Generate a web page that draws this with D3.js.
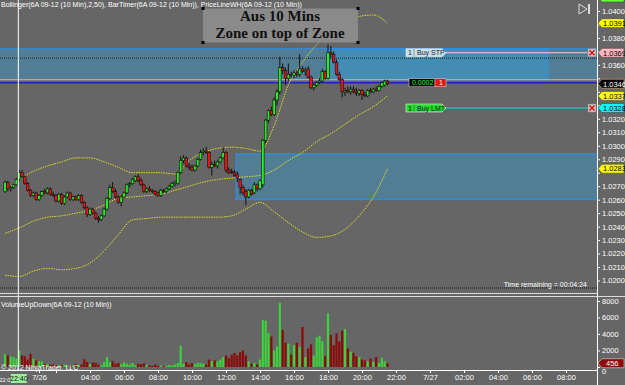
<!DOCTYPE html>
<meta charset="utf-8">
<style>
body { margin: 0; background: #666666; overflow: hidden; }
</style>
<script src="https://d3js.org/d3.v7.min.js"></script>
<div id="chart"></div>
<script>
// 6A 09-12 (10 Min) bars, one value per bar
var open = [1.0266,1.0273,1.0268,1.0269,1.0271,1.0275,1.0280,1.0277,1.0272,1.0267,
  1.0263,1.0265,1.0260,1.0263,1.0266,1.0265,1.0268,1.0264,1.0263,1.0259,
  1.0264,1.0257,1.0262,1.0265,1.0260,1.0262,1.0260,1.0263,1.0258,1.0254,
  1.0249,1.0253,1.0250,1.0246,1.0245,1.0248,1.0253,1.0261,1.0269,1.0266,
  1.0262,1.0258,1.0262,1.0265,1.0271,1.0272,1.0274,1.0277,1.0274,1.0271,
  1.0266,1.0268,1.0267,1.0266,1.0265,1.0263,1.0267,1.0266,1.0268,1.0270,
  1.0272,1.0272,1.0280,1.0289,1.0291,1.0285,1.0284,1.0282,1.0285,1.0290,
  1.0295,1.0296,1.0295,1.0284,1.0286,1.0285,1.0288,1.0291,1.0295,1.0282,
  1.0281,1.0280,1.0279,1.0275,1.0269,1.0266,1.0262,1.0267,1.0265,1.0271,
  1.0268,1.0271,1.0304,1.0319,1.0326,1.0323,1.0334,1.0340,1.0358,1.0356,
  1.0350,1.0353,1.0352,1.0354,1.0353,1.0357,1.0355,1.0357,1.0351,1.0343,
  1.0345,1.0347,1.0348,1.0355,1.0350,1.0369,1.0368,1.0362,1.0353,1.0349,
  1.0340,1.0341,1.0340,1.0342,1.0340,1.0339,1.0341,1.0338,1.0337,1.0341,
  1.0340,1.0342,1.0341,1.0344,1.0345,1.0348];
var high = [1.0274,1.0274,1.0270,1.0272,1.0276,1.0282,1.0282,1.0278,1.0273,1.0268,
  1.0266,1.0266,1.0264,1.0267,1.0268,1.0269,1.0269,1.0266,1.0264,1.0265,
  1.0265,1.0263,1.0266,1.0266,1.0263,1.0263,1.0264,1.0264,1.0259,1.0255,
  1.0254,1.0254,1.0251,1.0248,1.0249,1.0254,1.0262,1.0271,1.0273,1.0268,
  1.0263,1.0263,1.0266,1.0272,1.0273,1.0276,1.0278,1.0279,1.0276,1.0272,
  1.0269,1.0270,1.0268,1.0267,1.0266,1.0268,1.0268,1.0269,1.0271,1.0273,
  1.0274,1.0281,1.0292,1.0293,1.0292,1.0287,1.0286,1.0286,1.0291,1.0297,
  1.0298,1.0299,1.0296,1.0288,1.0289,1.0289,1.0292,1.0299,1.0296,1.0284,
  1.0283,1.0282,1.0281,1.0276,1.0271,1.0268,1.0268,1.0268,1.0273,1.0272,
  1.0275,1.0305,1.0320,1.0327,1.0329,1.0336,1.0342,1.0366,1.0361,1.0358,
  1.0361,1.0355,1.0356,1.0356,1.0368,1.0359,1.0358,1.0359,1.0352,1.0346,
  1.0348,1.0350,1.0357,1.0356,1.0375,1.0374,1.0370,1.0364,1.0355,1.0350,
  1.0343,1.0344,1.0344,1.0344,1.0343,1.0342,1.0342,1.0340,1.0342,1.0343,
  1.0343,1.0344,1.0345,1.0348,1.0349,1.0349];
var low = [1.0265,1.0266,1.0266,1.0268,1.0270,1.0274,1.0276,1.0271,1.0266,1.0262,
  1.0262,1.0259,1.0259,1.0262,1.0264,1.0264,1.0263,1.0262,1.0258,1.0258,
  1.0256,1.0256,1.0261,1.0259,1.0259,1.0259,1.0259,1.0257,1.0253,1.0247,
  1.0248,1.0249,1.0245,1.0243,1.0244,1.0247,1.0252,1.0260,1.0265,1.0261,
  1.0257,1.0255,1.0261,1.0264,1.0269,1.0271,1.0273,1.0273,1.0270,1.0265,
  1.0265,1.0266,1.0265,1.0263,1.0262,1.0262,1.0265,1.0265,1.0267,1.0269,
  1.0270,1.0271,1.0279,1.0287,1.0284,1.0282,1.0281,1.0281,1.0284,1.0289,
  1.0293,1.0294,1.0283,1.0278,1.0284,1.0283,1.0287,1.0290,1.0280,1.0279,
  1.0279,1.0277,1.0273,1.0264,1.0263,1.0256,1.0261,1.0263,1.0264,1.0266,
  1.0267,1.0269,1.0302,1.0317,1.0322,1.0322,1.0330,1.0338,1.0353,1.0345,
  1.0348,1.0350,1.0350,1.0351,1.0351,1.0354,1.0352,1.0350,1.0342,1.0341,
  1.0344,1.0346,1.0347,1.0349,1.0349,1.0365,1.0361,1.0352,1.0348,1.0336,
  1.0337,1.0339,1.0338,1.0339,1.0337,1.0337,1.0334,1.0336,1.0336,1.0339,
  1.0339,1.0340,1.0340,1.0343,1.0344,1.0345];
var close = [1.0273,1.0268,1.0269,1.0271,1.0275,1.0280,1.0277,1.0272,1.0267,1.0263,
  1.0265,1.0260,1.0263,1.0266,1.0265,1.0268,1.0264,1.0263,1.0259,1.0264,
  1.0257,1.0262,1.0265,1.0260,1.0262,1.0260,1.0263,1.0258,1.0254,1.0249,
  1.0253,1.0250,1.0246,1.0245,1.0248,1.0253,1.0261,1.0269,1.0266,1.0262,
  1.0258,1.0262,1.0265,1.0271,1.0272,1.0275,1.0277,1.0274,1.0271,1.0266,
  1.0268,1.0267,1.0266,1.0264,1.0263,1.0267,1.0266,1.0268,1.0270,1.0272,
  1.0273,1.0280,1.0289,1.0291,1.0285,1.0284,1.0282,1.0285,1.0290,1.0295,
  1.0296,1.0295,1.0284,1.0286,1.0285,1.0288,1.0291,1.0295,1.0282,1.0280,
  1.0280,1.0278,1.0276,1.0269,1.0265,1.0262,1.0267,1.0264,1.0271,1.0268,
  1.0274,1.0304,1.0319,1.0326,1.0323,1.0334,1.0340,1.0358,1.0356,1.0350,
  1.0353,1.0352,1.0354,1.0353,1.0357,1.0355,1.0356,1.0351,1.0343,1.0345,
  1.0347,1.0348,1.0355,1.0350,1.0369,1.0368,1.0362,1.0353,1.0349,1.0340,
  1.0341,1.0340,1.0342,1.0340,1.0339,1.0341,1.0338,1.0337,1.0341,1.0340,
  1.0342,1.0341,1.0344,1.0347,1.0348,1.0346];
var volume = [1550,1400,1300,1200,1000,2000,1400,1300,900,1600,
  1000,800,700,700,400,400,300,300,250,250,
  200,300,150,250,200,400,250,300,950,600,
  350,550,500,300,250,600,1200,600,700,400,
  500,350,550,400,300,500,200,400,350,450,
  250,200,150,300,150,200,100,150,250,200,
  300,500,2600,400,600,300,450,350,500,450,
  400,300,900,700,800,700,900,1200,1400,1100,
  1500,1700,1400,1800,2000,1400,700,400,500,300,
  900,5700,5600,4100,3700,2000,2500,7800,4500,2950,
  2850,1500,2650,2950,2450,4850,1200,2250,2750,1400,
  3600,3800,3150,1300,6500,3900,2650,4100,3100,4400,
  4600,2250,1850,1700,1300,1200,900,800,700,1000,
  600,1200,500,1100,700,456];

// Bollinger (50, 2.5) every 5 bars
var bandIdx = [0,5,10,15,20,25,30,35,40,45,50,55,60,65,70,75,80,85,90,95,100,105,110,115,120,125,130,135];
var bbUpper = [1.0266,1.0275,1.0281,1.0285,1.0288,1.0291,1.0291,1.0288,1.0284,1.0280,1.0280,1.0280,1.0279,1.0289,
  1.0295,1.0298,1.0299,1.0298,1.0296,1.0315,1.0345,1.0362,1.0375,1.0385,1.0392,1.0396,1.0397,1.0391];
var bbMiddle = [1.0235,1.0239,1.0244,1.0247,1.0248,1.0250,1.0252,1.0256,1.0261,1.0262,1.0263,1.0264,1.0267,1.0270,
  1.0273,1.0275,1.0276,1.0277,1.0278,1.0282,1.0289,1.0295,1.0303,1.0309,1.0316,1.0323,1.0329,1.0337];
var bbLower = [1.0204,1.0203,1.0207,1.0209,1.0208,1.0209,1.0213,1.0222,1.0234,1.0245,1.0246,1.0247,1.0247,1.0247,
  1.0247,1.0247,1.0248,1.0253,1.0258,1.0251,1.0243,1.0236,1.0232,1.0233,1.0238,1.0248,1.0262,1.0283];

// time axis: bar index -> label
var timeTickIdx = [12,18,30,42,54,66,78,90,102,114,126,138,150,162,174,186,198];
var timeTickLabels = ["7/26","","04:00","06:00","08:00","10:00","12:00","14:00","16:00","18:00","20:00","22:00","7/27","02:00","04:00","06:00","08:00"];

var priceTicks = d3.range(200, 411, 10).map(function(d) { return 1 + d / 10000; });
var volumeTicks = [0,2000,4000,6000,8000];

// drawn zones: start / end bar, top / bottom price
var zoneStart = [-2, 113.7, 81.5];
var zoneEnd = [191.7, 209, 209];
var zoneTop = [1.0372, 1.0372, 1.0294];
var zoneBottom = [1.0349, 1.0349, 1.0260];

// price markers on the right axis
var markerPrices = [1.0410, 1.0391, 1.0369, 1.0346, 1.0337, 1.0328, 1.0283];
var markerFills = ["#66ff33", "#ffff00", "#ffb6c1", "#000000", "#ffff00", "#00ffff", "#ffff00"];

var buyStop = 1.0369, buyLimit = 1.0328, lastPrice = 1.0346, lineHigh = 1.0349, dotLevel = 1.0365;
var crosshairIdx = 4.7;

var W = 625, H = 385, axisX = 597;
var SANS = "'Liberation Sans', Arial, sans-serif";
var SERIF = "'Liberation Serif', 'Times New Roman', serif";

var svg = d3.select("#chart").append("svg")
    .attr("width", W)
    .attr("height", H)
    .style("font-family", SANS);

svg.append("rect").attr("width", W).attr("height", H).attr("fill", "#666666");

var x = d3.scaleLinear().domain([0, 135]).range([5, 387.5]);
var y = d3.scaleLinear().domain([1.02, 1.04]).range([280.5, 11]);
var yv = d3.scaleLinear().domain([0, 8000]).range([367, 301]);

var price = svg.append("g");
price.append("clipPath").attr("id", "pclip")
    .append("rect").attr("x", 0).attr("y", 0).attr("width", axisX).attr("height", 293);

var plot = price.append("g").attr("clip-path", "url(#pclip)");

// zones
zoneStart.forEach(function(s, i) {
    plot.append("rect")
        .attr("x", x(s))
        .attr("y", y(zoneTop[i]))
        .attr("width", x(zoneEnd[i]) - x(s))
        .attr("height", y(zoneBottom[i]) - y(zoneTop[i]))
        .attr("fill", "rgb(40,170,240)")
        .attr("fill-opacity", 0.34)
        .attr("stroke", "#2a8ff0")
        .attr("stroke-width", 1);
});

// dotted level
plot.append("line")
    .attr("x1", 0).attr("x2", axisX)
    .attr("y1", y(dotLevel)).attr("y2", y(dotLevel))
    .attr("stroke", "#222").attr("stroke-dasharray", "1,1");

// price lines
plot.append("line").attr("x1", 0).attr("x2", axisX)
    .attr("y1", y(lineHigh)).attr("y2", y(lineHigh))
    .attr("stroke", "#e8b070").attr("stroke-width", 1);
plot.append("line").attr("x1", 0).attr("x2", axisX)
    .attr("y1", y(lastPrice) - 1).attr("y2", y(lastPrice) - 1)
    .attr("stroke", "#2020c8").attr("stroke-width", 1.6);

// bollinger
[bbUpper, bbMiddle, bbLower].forEach(function(vals) {
    plot.append("path")
        .datum(bandIdx.map(function(d, i) { return [d, vals[i]]; }))
        .attr("fill", "none")
        .attr("stroke", "#dede2a")
        .attr("stroke-width", 1)
        .attr("stroke-dasharray", "1.5,1")
        .attr("d", d3.line().x(function(d) { return x(d[0]); }).y(function(d) { return y(d[1]); }).curve(d3.curveMonotoneX));
});

// candles
var bars = d3.range(open.length);
plot.selectAll("line.wick").data(bars).enter().append("line")
    .attr("class", "wick")
    .attr("x1", function(i) { return x(i); }).attr("x2", function(i) { return x(i); })
    .attr("y1", function(i) { return y(high[i]); }).attr("y2", function(i) { return y(low[i]); })
    .attr("stroke", "#111").attr("stroke-width", 1);
plot.selectAll("rect.body").data(bars).enter().append("rect")
    .attr("class", "body")
    .attr("x", function(i) { return x(i) - 1.3; })
    .attr("width", 2.6)
    .attr("y", function(i) { return y(Math.max(open[i], close[i])); })
    .attr("height", function(i) { return Math.max(1, Math.abs(y(open[i]) - y(close[i]))); })
    .attr("fill", function(i) { return close[i] >= open[i] ? "#22ee22" : "#ee1111"; })
    .attr("stroke", "#111").attr("stroke-width", 0.6);

// order lines
plot.append("line").attr("x1", 446).attr("x2", 588)
    .attr("y1", y(buyStop)).attr("y2", y(buyStop)).attr("stroke", "#ffc8d2").attr("stroke-width", 1.2);
plot.append("line").attr("x1", 446).attr("x2", 588)
    .attr("y1", y(buyLimit)).attr("y2", y(buyLimit)).attr("stroke", "#00e0e0").attr("stroke-width", 1.2);

function orderTag(yc, fill, label, txtColor) {
    var g = plot.append("g");
    g.append("path")
        .attr("d", "M406," + (yc - 4) + "H442L446," + yc + "L442," + (yc + 4) + "H406Z")
        .attr("fill", fill).attr("stroke", "#eee").attr("stroke-width", 0.6);
    g.append("line").attr("x1", 414).attr("x2", 414).attr("y1", yc - 4).attr("y2", yc + 4).attr("stroke", "#555").attr("stroke-width", 0.5);
    g.append("text").attr("x", 408).attr("y", yc + 2.6).attr("font-size", 7).attr("fill", txtColor).text("1");
    g.append("text").attr("x", 417).attr("y", yc + 2.6).attr("font-size", 7).attr("fill", txtColor).text(label);
}
orderTag(y(buyStop), "#c9dfe9", "Buy STP", "#223");
orderTag(y(buyLimit), "#22dd22", "Buy LMT", "#113");

// position tag
var py = y(lastPrice) - 1;
plot.append("rect").attr("x", 409).attr("y", py - 4).attr("width", 26).attr("height", 8)
    .attr("fill", "#000").attr("stroke", "#ddd").attr("stroke-width", 0.5);
plot.append("text").attr("x", 412).attr("y", py + 2.6).attr("font-size", 7).attr("fill", "#33ff33").text("0.0002");
plot.append("rect").attr("x", 435).attr("y", py - 4).attr("width", 11).attr("height", 8)
    .attr("fill", "#ee1111").attr("stroke", "#ddd").attr("stroke-width", 0.5);
plot.append("text").attr("x", 439).attr("y", py + 2.6).attr("font-size", 7).attr("fill", "#fff").text("1");

// close boxes
[buyStop, buyLimit].forEach(function(p) {
    var yc = y(p);
    plot.append("rect").attr("x", 588).attr("y", yc - 4).attr("width", 8).attr("height", 8)
        .attr("fill", "#c8c8c8").attr("stroke", "#888").attr("stroke-width", 0.5);
    plot.append("path").attr("d", "M589.5," + (yc - 2.5) + "L594.5," + (yc + 2.5) + "M594.5," + (yc - 2.5) + "L589.5," + (yc + 2.5))
        .attr("stroke", "#e00").attr("stroke-width", 1.4);
});

// bar timer line
plot.append("line").attr("x1", 0).attr("x2", axisX).attr("y1", 288).attr("y2", 288)
    .attr("stroke", "#111").attr("stroke-dasharray", "1,1");
svg.append("text").attr("x", 587).attr("y", 287).attr("text-anchor", "end")
    .attr("font-size", 7).attr("fill", "#fff").text("Time remaining = 00:04:24");

// price axis, labels under a marker are hidden as in the platform
var pAxis = svg.append("g").attr("transform", "translate(" + axisX + ",0)")
    .call(d3.axisRight(y).tickValues(priceTicks).tickFormat(d3.format(".4f")).tickSize(3).tickPadding(2));
pAxis.select(".domain").attr("stroke", "#fff").attr("d", "M0.5,0V" + H);
pAxis.selectAll(".tick line").attr("stroke", "#fff");
pAxis.selectAll(".tick text").attr("fill", "#fff").attr("font-size", 7.5).style("font-family", SANS)
    .style("display", function(d) {
        var yd = y(d);
        return markerPrices.some(function(p) { return Math.abs(y(p) - yd) < 7; }) ? "none" : null;
    });

// price markers
markerPrices.forEach(function(p, i) {
    var yc = y(p);
    var dark = markerFills[i] === "#000000";
    svg.append("path")
        .attr("d", "M598," + yc + "L602," + (yc - 4.5) + "H624V" + (yc + 4.5) + "H602Z")
        .attr("fill", markerFills[i]).attr("stroke", dark ? "#e8b070" : "#444").attr("stroke-width", 0.6);
    svg.append("text").attr("x", 603).attr("y", yc + 2.8).attr("font-size", 7.5)
        .attr("fill", dark ? "#fff" : "#000").text(d3.format(".4f")(p));
});

// panel separators
svg.append("line").attr("x1", 0).attr("x2", axisX + 1).attr("y1", 293.5).attr("y2", 293.5).attr("stroke", "#ddd");
svg.append("line").attr("x1", 0).attr("x2", W).attr("y1", 296.5).attr("y2", 296.5).attr("stroke", "#ddd");

// volume
var vol = svg.append("g");
vol.selectAll("rect").data(bars).enter().append("rect")
    .attr("x", function(i) { return x(i) - 1.1; })
    .attr("width", 2.2)
    .attr("y", function(i) { return yv(volume[i]); })
    .attr("height", function(i) { return yv(0) - yv(volume[i]); })
    .attr("fill", function(i) { return close[i] >= open[i] ? "#3cd23c" : "#8c0a0a"; });

var vAxis = svg.append("g").attr("transform", "translate(" + axisX + ",0)")
    .call(d3.axisRight(yv).tickValues(volumeTicks).tickFormat(d3.format("d")).tickSize(3).tickPadding(2));
vAxis.select(".domain").remove();
vAxis.selectAll(".tick line").attr("stroke", "#fff");
vAxis.selectAll(".tick text").attr("fill", "#fff").attr("font-size", 7.5).style("font-family", SANS)
    .attr("dy", function(d) { return d === 0 ? "0.9em" : "0.32em"; });

var vLast = volume[volume.length - 1];
svg.append("path")
    .attr("d", "M598," + yv(vLast) + "L602," + (yv(vLast) - 4.5) + "H624V" + (yv(vLast) + 4.5) + "H602Z")
    .attr("fill", "#8c0a0a").attr("stroke", "#ddd").attr("stroke-width", 0.6);
svg.append("text").attr("x", 606).attr("y", yv(vLast) + 2.8).attr("font-size", 7.5).attr("fill", "#fff").text(vLast);

// time axis
var tAxis = svg.append("g").attr("transform", "translate(0,370)")
    .call(d3.axisBottom(x).tickValues(timeTickIdx).tickFormat(function(d, i) { return timeTickLabels[i]; }).tickSize(3).tickPadding(2));
tAxis.select(".domain").attr("stroke", "#fff").attr("d", "M0,0.5H" + axisX);
tAxis.selectAll(".tick line").attr("stroke", "#fff");
tAxis.selectAll(".tick text").attr("fill", "#fff").attr("font-size", 7.5).style("font-family", SANS);
svg.append("text").attr("x", -1).attr("y", 382).attr("font-size", 6).attr("fill", "#fff").text("22:0");

// crosshair
var cx = x(crosshairIdx);
svg.append("line").attr("x1", cx).attr("x2", cx).attr("y1", 0).attr("y2", 370).attr("stroke", "#fff").attr("stroke-width", 1);
svg.append("rect").attr("x", cx - 7.5).attr("y", 374).attr("width", 16).attr("height", 9).attr("fill", "#9cf09c");
svg.append("text").attr("x", cx + 0.5).attr("y", 381).attr("text-anchor", "middle").attr("font-size", 7).attr("fill", "#111").text("22:40");

// labels
svg.append("text").attr("x", 1).attr("y", 7).attr("font-size", 7).attr("fill", "#fff")
    .text("Bollinger(6A 09-12 (10 Min),2,50), BarTimer(6A 09-12 (10 Min)), PriceLineWH(6A 09-12 (10 Min))");
svg.append("text").attr("x", 1).attr("y", 307).attr("font-size", 7).attr("fill", "#fff").text("VolumeUpDown(6A 09-12 (10 Min))");
svg.append("text").attr("x", 1).attr("y", 370).attr("font-size", 7).attr("fill", "#fff").text("\u00a9 2012 NinjaTrader, LLC");

// note box
var note = svg.append("g");
note.append("rect").attr("x", 203).attr("y", 8.5).attr("width", 155).attr("height", 34)
    .attr("fill", "#8a8a8a");
note.append("text").attr("x", 280).attr("y", 21).attr("text-anchor", "middle")
    .style("font-family", SERIF).attr("font-weight", "bold").attr("font-size", 15).attr("fill", "#111")
    .text("Aus 10 Mins");
note.append("text").attr("x", 280).attr("y", 38).attr("text-anchor", "middle")
    .style("font-family", SERIF).attr("font-weight", "bold").attr("font-size", 15).attr("fill", "#111")
    .text("Zone on top of Zone");
[[203, 8.5], [358, 8.5], [203, 42.5], [358, 42.5]].forEach(function(c) {
    note.append("rect").attr("x", c[0] - 1.5).attr("y", c[1] - 1.5).attr("width", 3).attr("height", 3).attr("fill", "#000");
});

// scroll-to-end button
svg.append("path").attr("d", "M579,4L587,9L579,14Z").attr("fill", "none").attr("stroke", "#ddd").attr("stroke-width", 1);
svg.append("rect").attr("x", 588).attr("y", 4).attr("width", 2).attr("height", 10).attr("fill", "#ddd");
</script>
